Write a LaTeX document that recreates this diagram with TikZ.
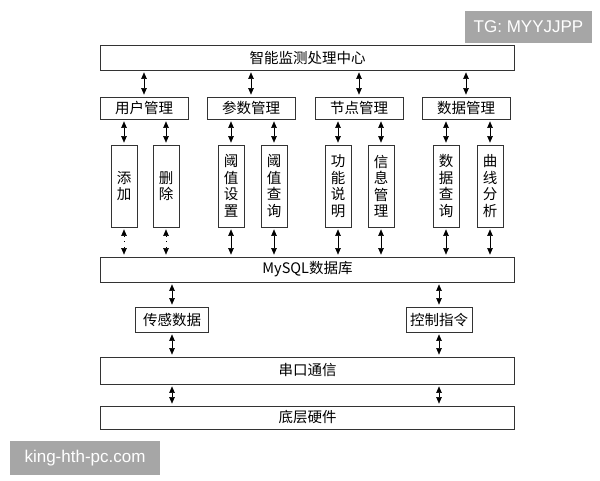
\documentclass[tikz,border=0pt]{standalone}
\usepackage{fontspec}
\usetikzlibrary{arrows.meta}
\newfontfamily\cjk{Noto Sans CJK SC}
\newfontfamily\wmfont{Liberation Sans}
\begin{document}
\begin{tikzpicture}[x=1pt,y=-1pt,
    box/.style={draw=black!80,line width=0.8pt,inner sep=0pt,font=\cjk\fontsize{14.5}{16.5}\selectfont},
    wide/.style={box,minimum width=414pt},
    mgr/.style={box,minimum width=88pt,minimum height=22pt},
    leaf/.style={box,minimum width=26pt,minimum height=82pt,align=center},
    io/.style={box,minimum height=25pt},
    link/.style={{Triangle[length=6.5pt,width=5.5pt]}-{Triangle[length=6.5pt,width=5.5pt]},line width=0.5pt,shorten >=2pt,shorten <=2pt},
    faint/.style={dash pattern=on 0.5pt off 5pt},
    wmark/.style={fill=black!35,text=white,inner sep=0pt,font=\wmfont\fontsize{17}{17}\selectfont}]
              \useasboundingbox (0,0) rectangle (600,480);
              \node [wmark,minimum width=127pt,minimum height=32pt] (tg) at (528.5,27) {TG: MYYJJPP};
              \node [wmark,minimum width=150pt,minimum height=34pt] (site) at (85,458) {king-hth-pc.com};
              \node [wide,minimum height=25pt] (center) at (307.5,57.5) {智能监测处理中心};
              \node [mgr] (user) at (144,108) {用户管理};
              \node [mgr] (param) at (251,108) {参数管理};
              \node [mgr] (node) at (359,108) {节点管理};
              \node [mgr] (data) at (466,108) {数据管理};
              \node [leaf] (add) at (124,186) {添\\加};
              \node [leaf] (del) at (166,186) {删\\除};
              \node [leaf] (tset) at (231,186) {阈\\值\\设\\置};
              \node [leaf] (tqry) at (274,186) {阈\\值\\查\\询};
              \node [leaf] (func) at (338,186) {功\\能\\说\\明};
              \node [leaf] (info) at (381,186) {信\\息\\管\\理};
              \node [leaf] (dqry) at (446,186) {数\\据\\查\\询};
              \node [leaf] (curve) at (490,186) {曲\\线\\分\\析};
              \node [wide,minimum height=25pt] (db) at (307.5,269.5) {MySQL数据库};
              \node [io,minimum width=73pt] (sense) at (172,319.5) {传感数据};
              \node [io,minimum width=66pt] (ctrl) at (439,319.5) {控制指令};
              \node [wide,minimum height=27pt] (serial) at (307.5,370.5) {串口通信};
              \node [wide,minimum height=23pt] (hw) at (307.5,417.5) {底层硬件};
              % centre to managers
              \draw [link] (user.north |- center.south) -- (user.north);
              \draw [link] (param.north |- center.south) -- (param.north);
              \draw [link] (node.north |- center.south) -- (node.north);
              \draw [link] (data.north |- center.south) -- (data.north);
              % managers to functions
              \draw [link] (add.north |- user.south) -- (add.north);
              \draw [link] (del.north |- user.south) -- (del.north);
              \draw [link] (tset.north |- param.south) -- (tset.north);
              \draw [link] (tqry.north |- param.south) -- (tqry.north);
              \draw [link] (func.north |- node.south) -- (func.north);
              \draw [link] (info.north |- node.south) -- (info.north);
              \draw [link] (dqry.north |- data.south) -- (dqry.north);
              \draw [link] (curve.north |- data.south) -- (curve.north);
              % functions to database
              \draw [link,faint] (add.south) -- (add.south |- db.north);
              \draw [link,faint] (del.south) -- (del.south |- db.north);
              \draw [link] (tset.south) -- (tset.south |- db.north);
              \draw [link] (tqry.south) -- (tqry.south |- db.north);
              \draw [link] (func.south) -- (func.south |- db.north);
              \draw [link] (info.south) -- (info.south |- db.north);
              \draw [link] (dqry.south) -- (dqry.south |- db.north);
              \draw [link] (curve.south) -- (curve.south |- db.north);
              % lower layers
              \draw [link] (sense.north |- db.south) -- (sense.north);
              \draw [link] (ctrl.north |- db.south) -- (ctrl.north);
              \draw [link] (sense.south) -- (sense.south |- serial.north);
              \draw [link] (ctrl.south) -- (ctrl.south |- serial.north);
              \draw [link] (sense.south |- serial.south) -- (sense.south |- hw.north);
              \draw [link] (ctrl.south |- serial.south) -- (ctrl.south |- hw.north);
\end{tikzpicture}
\end{document}
